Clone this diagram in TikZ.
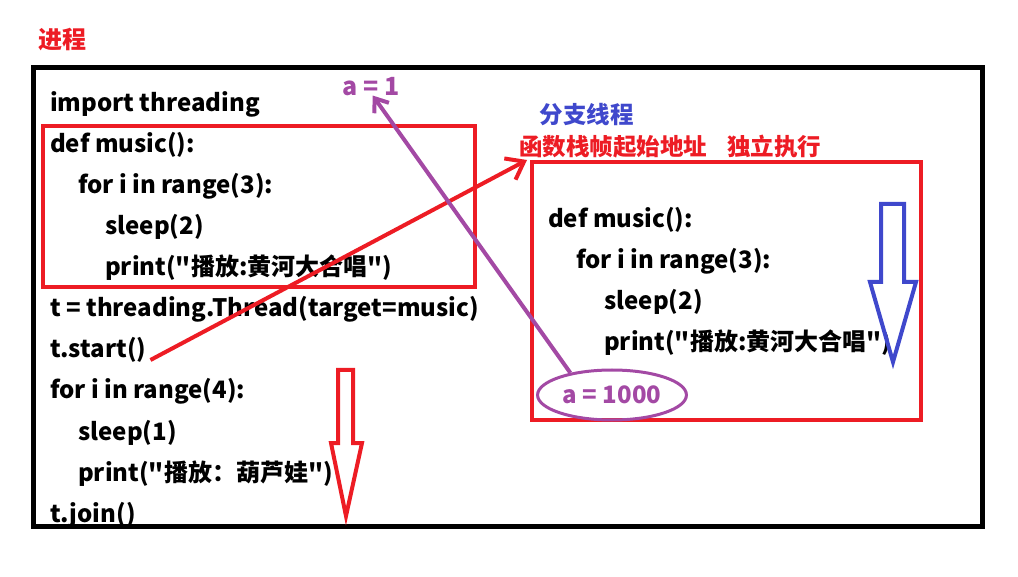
\documentclass[tikz,border=0pt]{standalone}
\usepackage{fontspec}
\setmainfont{Noto Sans CJK SC}[Ligatures=TeXOff]
\usepackage{tikz}
\usetikzlibrary{arrows.meta,shapes.geometric}

\definecolor{pred}{HTML}{ED1C24}
\definecolor{ppurple}{HTML}{A349A4}
\definecolor{pblue}{HTML}{3F48CC}

\tikzset{
  code/.style={anchor=base west,inner sep=0pt,font=\fontsize{24}{24}\selectfont\bfseries},
  note/.style={inner sep=0pt,font=\fontsize{23.5}{23.5}\selectfont\bfseries},
  hollow/.style={line width=4pt,line join=miter}
}

\begin{document}
\begin{tikzpicture}[x=1pt,y=-1pt]
\useasboundingbox (0,0) rectangle (1018,577);

% process frame
\node[note,text=pred,anchor=west] (proc) at (38,40) {\fontsize{24}{24}\selectfont 进程};
\draw[line width=5pt] (33.5,68) rectangle (982,526.5);

% main program
\node[code] (imp) at (50,112) {import threading};
\node[code] (def1) at (50,153) {def music():};
\node[code] (for1) at (78,194) {for i in range(3):};
\node[code] (sl1) at (105,235) {sleep(2)};
\node[code] (pr1) at (105,276) {print("播放:黄河大合唱")};
\node[code] (thr) at (50,317) {t = threading.Thread(target=music)};
\node[code] (tstart) at (50,358) {t.start()};
\node[code] (for2) at (50,399) {for i in range(4):};
\node[code] (sl2) at (78,440) {sleep(1)};
\node[code] (pr2) at (78,481) {print("播放：葫芦娃")};
\begin{scope}
\clip (36,68) rectangle (980,524);
\node[code] (join) at (50,522) {t.join()};
\end{scope}
\draw[pred,line width=4pt] (43,126) rectangle (475,287);

% thread
\node[note,text=pblue] (branch) at (586.5,115) {分支线程};
\node[note,text=pred,anchor=west] (addr) at (519,147) {函数栈帧起始地址\hspace{20pt}独立执行};
\draw[pred,line width=4pt] (532,162) rectangle (921,420);
\node[code] (def2) at (548,228) {def music():};
\node[code] (for3) at (576,269) {for i in range(3):};
\node[code] (sl3) at (604,310) {sleep(2)};
\node[code] (pr3) at (604,351) {print("播放:黄河大合唱")};

% variables
\node[code,text=ppurple,font=\fontsize{25}{25}\selectfont\bfseries] (a1) at (342,96) {a = 1};
\node[ellipse,draw=ppurple,line width=3pt,minimum width=138pt,minimum height=50pt,
  text=ppurple,font=\fontsize{24}{24}\selectfont\bfseries] (a1000) at (612,395) {a = 1000};

% connectors
\coordinate (tip) at (527,160);
\draw[pred,line width=4pt,-{Straight Barb[length=16pt,width=24pt]}] ([xshift=4pt,yshift=-2pt]tstart.base east) -- (tip);
\draw[ppurple,line width=4pt,-{Straight Barb[length=12pt,width=18pt]}] (a1000.152) -- ([xshift=2pt,yshift=1pt]a1.south);

% flow arrows
\draw[hollow,pred] (338,370) -- (353,370) -- (353,443) -- (362,443) -- (346,516)
  -- (331,443) -- (338,443) -- cycle;
\draw[hollow,pblue] (881,204) -- (904,204) -- (904,282) -- (916,282) -- (893,362)
  -- (870,282) -- (881,282) -- cycle;
\end{tikzpicture}
\end{document}
